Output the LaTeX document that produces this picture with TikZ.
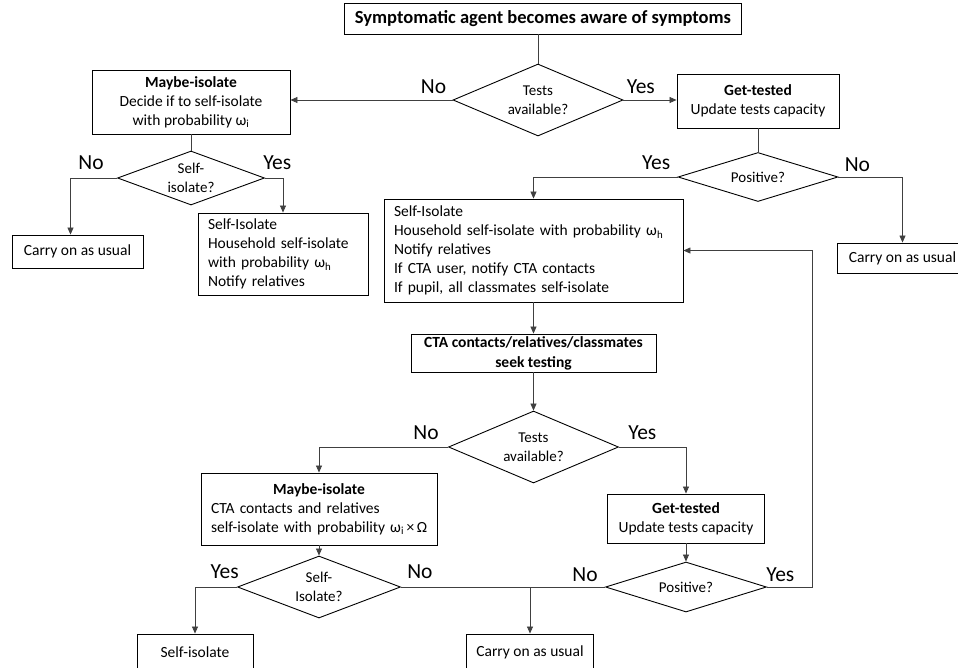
\documentclass[tikz,border=0pt]{standalone}
\usepackage{fontspec}
\setmainfont{Carlito}
\usepackage{tikz}
\usetikzlibrary{arrows.meta,shapes,positioning}

\begin{document}
\begin{tikzpicture}[x=1pt,y=1pt,>={Triangle[length=7pt,width=6pt]},
                    line width=0.7pt,font=\fontsize{15.5}{19}\selectfont]
  \tikzstyle{box}=[rectangle,draw=black,line width=0.9pt,inner sep=0pt,inner xsep=10pt,align=center]
  \tikzstyle{textbox}=[box,align=left]
  \tikzstyle{decision}=[diamond,draw=black,line width=0.9pt,inner sep=0pt,aspect=2.5,align=center,
                        font=\fontsize{15}{18.5}\selectfont]
  \tikzstyle{link}=[draw=black!75]
  \tikzstyle{answer}=[inner sep=0pt,font=\fontsize{21.5}{24}\selectfont]

  \clip (0,0) rectangle (958,-667);

  % first agent
  \node[box,minimum width=396,minimum height=31,font=\fontsize{18.5}{22}\selectfont\bfseries]
                          (aware) at (543,-18.5) {Symptomatic agent becomes aware of symptoms};
  \node[decision,minimum width=170,minimum height=72] (tests1) at (538,-100) {Tests\\available?};
  \node[box,minimum width=198,minimum height=64] (maybe1) at (191,-102)
        {\textbf{Maybe-isolate}\\Decide if to self-isolate\\with probability ω\textsubscript{i}};
  \node[box,minimum width=162,minimum height=54] (gettest1) at (758,-101)
        {\textbf{Get-tested}\\Update tests capacity};
  \node[decision,minimum width=147,minimum height=54] (selfiso1) [below of=maybe1, node distance=76] {Self-\\isolate?};
  \node[decision,minimum width=160,minimum height=49] (positive1) [below of=gettest1, node distance=76] {Positive?};
  \node[box,minimum width=131,minimum height=33] (carry1) at (77.5,-251.5) {Carry on as usual};
  \node[textbox,text width=150,minimum height=82] (iso1) at (283,-254)
        {Self-Isolate\\Household self-isolate\\with probability ω\textsubscript{h}\\Notify relatives};
  \node[box,minimum width=131,minimum height=30] (carry2) at (902.5,-258) {Carry on as usual};
  \node[textbox,text width=279,minimum height=103] (bigbox) at (533.5,-250.5)
        {Self-Isolate\\Household self-isolate with probability ω\textsubscript{h}\\Notify relatives\\
         If CTA user, notify CTA contacts\\If pupil, all classmates self-isolate};

  % contacts
  \node[box,minimum width=245,minimum height=38,font=\fontsize{15.5}{20}\selectfont\bfseries]
        (cta) [below of=bigbox, node distance=102.5] {CTA contacts/relatives/classmates\\seek testing};
  \node[decision,minimum width=170,minimum height=72] (tests2) [below of=cta, node distance=94] {Tests\\available?};
  \node[textbox,text width=216,minimum height=72] (maybe2) at (319,-509)
        {\makebox[\linewidth]{\textbf{Maybe-isolate}}\\CTA contacts and relatives\\
         \mbox{self-isolate with probability ω\textsubscript{i}\,×\,Ω}};
  \node[box,minimum width=157,minimum height=49] (gettest2) at (686,-518.5)
        {\textbf{Get-tested}\\Update tests capacity};
  \node[decision,minimum width=163,minimum height=62] (selfiso2) [below of=maybe2, node distance=78] {Self-\\Isolate?};
  \node[decision,minimum width=161,minimum height=50] (positive2) [below of=gettest2, node distance=68.5] {Positive?};
  \node[box,minimum width=116,minimum height=36] (selfiso3) at (195,-652) {Self-isolate};
  \node[box,minimum width=122,minimum height=36] (carry3) at (530,-652) {Carry on as usual};

  \draw[link] (aware.south -| tests1.north) -- (tests1.north);
  \draw[link,->] (tests1.west) node[answer,above left=6pt and 6pt] {No} -- (tests1.west -| maybe1.east);
  \draw[link,->] (tests1.east) node[answer,above right=6pt and 3pt] {Yes} -- (tests1.east -| gettest1.west);
  \draw[link] (maybe1.south) -- (selfiso1.north);
  \draw[link] (gettest1.south) -- (positive1.north);
  \draw[link,->] (selfiso1.west) node[answer,above left=8pt and 13pt] {No} -| ([xshift=-7pt]carry1.north);
  \draw[link,->] (selfiso1.east) node[answer,above right=8pt and -2pt] {Yes} -| (iso1.north);
  \draw[link,->] (positive1.west) node[answer,above left=7pt and 7pt] {Yes} -| (bigbox.north);
  \draw[link,->] (positive1.east) node[answer,above right=5pt and 6pt] {No} -| (carry2.north);
  \draw[link,->] (bigbox.south) -- (cta.north);
  \draw[link,->] (cta.south) -- (tests2.north);
  \draw[link,->] (tests2.west) node[answer,above left=7pt and 9pt] {No} -| (maybe2.north);
  \draw[link,->] (tests2.east) node[answer,above right=7pt and 9pt] {Yes} -| (gettest2.north);
  \draw[link,->] (maybe2.south) -- (selfiso2.north);
  \draw[link,->] (gettest2.south) -- (positive2.north);
  \draw[link,->] (selfiso2.west) node[answer,above left=8pt and -2pt] {Yes} -| (selfiso3.north);
  \draw[link] (selfiso2.east) node[answer,above right=8pt and 6pt] {No}
              -- (positive2.west) node[answer,above left=5pt and 7pt] {No};
  \coordinate (split) at (carry3.north |- selfiso2.east);
  \draw[link,->] (split) -- (carry3.north);
  \draw[link,->] (positive2.east) node[answer,above right=5pt and -1pt] {Yes} -- ++(45,0) |- (bigbox.east);
\end{tikzpicture}
\end{document}
